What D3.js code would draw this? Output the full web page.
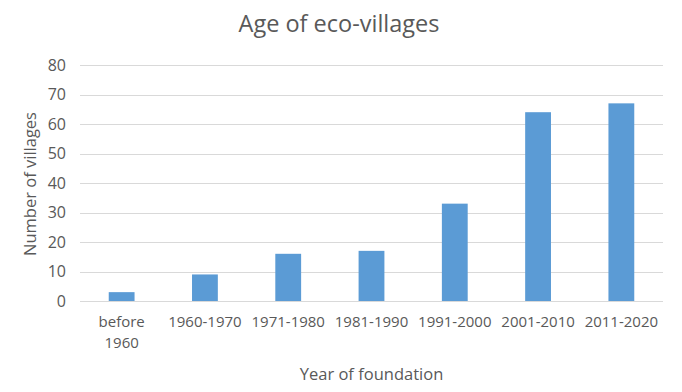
<!DOCTYPE html>
<html>
<head>
<meta charset="utf-8">
<script src="https://cdn.jsdelivr.net/npm/d3@7"></script>
<style>
  body { margin: 0; background: #fff; }
  svg text { font-family: "Open Sans", "Noto Sans", sans-serif; fill: #595959; }
</style>
</head>
<body>
<div id="chart"></div>
<script>
(function () {

// Data
const categories = ["before 1960", "1960-1970", "1971-1980", "1981-1990", "1991-2000", "2001-2010", "2011-2020"];
const villages = [3, 9, 16, 17, 33, 64, 67];
const yTicks = [0, 10, 20, 30, 40, 50, 60, 70, 80];

const width = 682, height = 392;
const margin = { top: 65, right: 19, bottom: 91, left: 80 };
const innerW = width - margin.left - margin.right;
const innerH = height - margin.top - margin.bottom;

const svg = d3.select("#chart").append("svg")
    .attr("width", width)
    .attr("height", height);

const g = svg.append("g")
    .attr("transform", `translate(${margin.left},${margin.top})`);

// Scales
const x = d3.scaleBand()
    .domain(categories)
    .range([0, innerW])
    .paddingInner(0.69)
    .paddingOuter(0.345);

const y = d3.scaleLinear()
    .domain([0, 80])
    .range([innerH, 0]);

// Grid lines
g.selectAll(".grid")
    .data(yTicks)
    .enter()
    .append("line")
    .attr("x1", 0)
    .attr("x2", innerW)
    .attr("y1", d => Math.round(y(d)) + 0.5)
    .attr("y2", d => Math.round(y(d)) + 0.5)
    .attr("stroke", "#d9d9d9")
    .attr("stroke-width", 1);

// Y axis labels
const yAxis = g.append("g")
    .call(d3.axisLeft(y).tickValues(yTicks).tickSize(0).tickPadding(14));
yAxis.select(".domain").remove();
yAxis.selectAll("text")
    .style("font-size", "16px")
    .attr("fill", "#595959");

// Bars
g.selectAll(".bar")
    .data(villages)
    .enter()
    .append("rect")
    .attr("class", "bar")
    .attr("x", (d, i) => x(categories[i]))
    .attr("y", d => y(d))
    .attr("width", x.bandwidth())
    .attr("height", d => innerH - y(d))
    .attr("fill", "#5b9bd5");

// X axis labels
const xAxis = g.append("g")
    .attr("transform", `translate(0,${innerH})`)
    .call(d3.axisBottom(x).tickSize(0).tickPadding(15));
xAxis.select(".domain").remove();
xAxis.selectAll(".tick text")
    .style("font-size", "15px")
    .attr("fill", "#595959")
    .each(function (d) {
        const t = d3.select(this);
        if (d === "before 1960") {
            t.text(null);
            t.append("tspan").attr("x", 0).attr("dy", "0.71em").text("before");
            t.append("tspan").attr("x", 0).attr("dy", "1.4em").text("1960");
        }
    });

// Title
svg.append("text")
    .attr("x", 339)
    .attr("y", 32)
    .attr("text-anchor", "middle")
    .style("font-size", "23.5px")
    .text("Age of eco-villages");

// Axis titles
svg.append("text")
    .attr("transform", `translate(36,${margin.top + innerH / 2 + 1}) rotate(-90)`)
    .attr("text-anchor", "middle")
    .style("font-size", "16.5px")
    .text("Number of villages");

svg.append("text")
    .attr("x", margin.left + innerW / 2)
    .attr("y", 380)
    .attr("text-anchor", "middle")
    .style("font-size", "16.5px")
    .text("Year of foundation");

})();
</script>
</body>
</html>
